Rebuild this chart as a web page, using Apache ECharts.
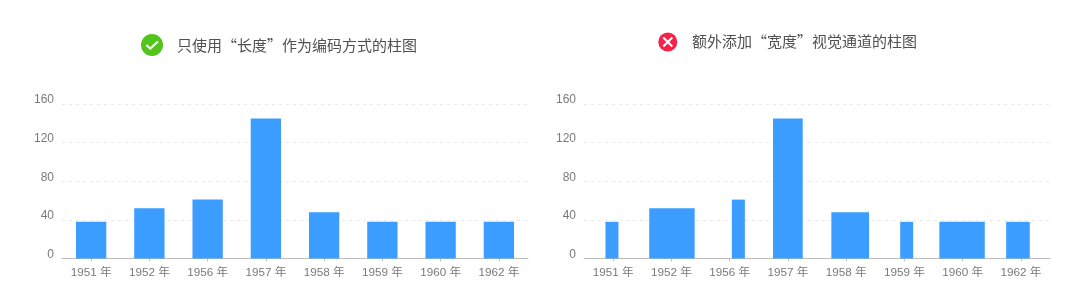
<!DOCTYPE html>
<html>
<head>
<meta charset="utf-8">
<style>html,body{margin:0;padding:0;background:#fff}#c{width:1080px;height:308px}</style>
<script src="https://cdn.jsdelivr.net/npm/echarts@6/dist/echarts.min.js"></script>
</head>
<body>
<div id="c"></div>
<script>
const categories = ['1951 年','1952 年','1956 年','1957 年','1958 年','1959 年','1960 年','1962 年'];
const sales = [38, 52, 61, 145, 48, 38, 38, 38];
// Right chart: the extra "width" channel, in shares of a category band
const widthShare = [0.223, 0.78, 0.223, 0.51, 0.647, 0.223, 0.78, 0.405];
const centerShift = [-0.02, 0.01, 0.15, 0, 0.07, 0.04, -0.01, -0.05];
const titleGood = '只使用“长度”作为编码方式的柱图';
const titleBad = '额外添加“宽度”视觉通道的柱图';

const FONT = '"Liberation Sans","Noto Sans CJK SC",sans-serif';
const BAR = '#3a9dff', LABEL = '#7a7a7a';

function xAxis(i) {
  return {
    type: 'category', gridIndex: i, data: categories,
    axisTick: { show: true, alignWithLabel: true, length: 3, lineStyle: { color: '#c4c4c4' } },
    axisLine: { show: true, lineStyle: { color: '#bdbdbd', width: 1 } },
    axisLabel: { color: LABEL, fontSize: 11.7, fontFamily: FONT, margin: 8, interval: 0 },
    splitLine: { show: false }
  };
}
function yAxis(i) {
  return {
    type: 'value', gridIndex: i, min: 0, max: 160, interval: 40,
    axisLine: { show: false }, axisTick: { show: false },
    axisLabel: { color: LABEL, fontSize: 12, fontFamily: FONT, margin: 8, verticalAlign: 'bottom', lineHeight: 8 },
    splitLine: { lineStyle: { color: '#e9e9e9', type: [3, 4], width: 1 } }
  };
}
const chart = echarts.init(document.getElementById('c'), null, { renderer: 'canvas' });
chart.setOption({
  animation: false,
  backgroundColor: '#fff',
  title: [
    { text: titleGood, left: 172, top: 33, textStyle: { fontFamily: '"Noto Sans CJK SC"', fontSize: 15, fontWeight: 400, color: '#505050' } },
    { text: titleBad, left: 687, top: 29, textStyle: { fontFamily: '"Noto Sans CJK SC"', fontSize: 15, fontWeight: 400, color: '#505050' } }
  ],
  grid: [
    { left: 62, right: 552, top: 104, bottom: 49.5 },
    { left: 584, right: 30, top: 104, bottom: 49.5 }
  ],
  xAxis: [xAxis(0), xAxis(1)],
  yAxis: [yAxis(0), yAxis(1)],
  series: [
    { type: 'bar', xAxisIndex: 0, yAxisIndex: 0, data: sales, barWidth: '52%', itemStyle: { color: BAR } },
    {
      type: 'custom', xAxisIndex: 1, yAxisIndex: 1,
      encode: { x: 0, y: 1 },
      data: sales.map((v, i) => [i, v, widthShare[i], centerShift[i]]),
      renderItem(params, api) {
        const band = api.size([1, 0])[0];
        const top = api.coord([api.value(0), api.value(1)]);
        const base = api.coord([api.value(0), 0]);
        const w = api.value(2) * band;
        const cx = top[0] + api.value(3) * band;
        return { type: 'rect', shape: { x: cx - w / 2, y: top[1], width: w, height: base[1] - top[1] }, style: { fill: BAR } };
      }
    }
  ],
  graphic: [
    { type: 'circle', shape: { cx: 152, cy: 45, r: 11 }, style: { fill: '#52c41a' } },
    { type: 'polyline', shape: { points: [[146.3, 45], [150.3, 48.6], [158, 41.6]] }, style: { stroke: '#fff', lineWidth: 2, fill: null } },
    { type: 'circle', shape: { cx: 667.8, cy: 42, r: 9.5 }, style: { fill: '#f5224a' } },
    { type: 'line', shape: { x1: 663.3, y1: 37.5, x2: 672.3, y2: 46.5 }, style: { stroke: '#fff', lineWidth: 2 } },
    { type: 'line', shape: { x1: 672.3, y1: 37.5, x2: 663.3, y2: 46.5 }, style: { stroke: '#fff', lineWidth: 2 } }
  ]
});
</script>
</body>
</html>
